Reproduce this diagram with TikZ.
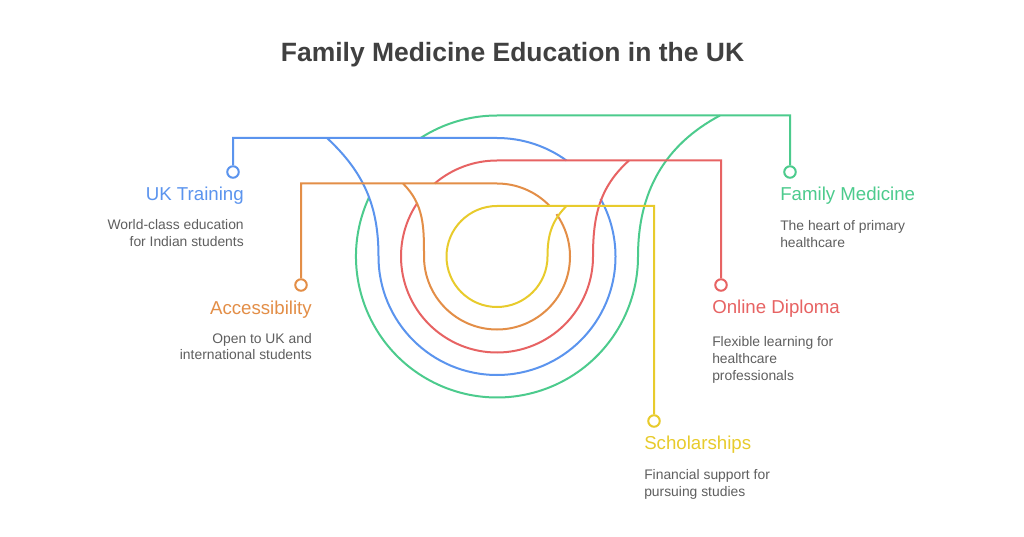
\documentclass[tikz,border=0pt]{standalone}
\usepackage{fontspec}
\setmainfont{Liberation Sans}
\usetikzlibrary{calc}
\definecolor{cblue}{HTML}{5B94EE}
\definecolor{corange}{HTML}{E38E47}
\definecolor{cred}{HTML}{E76363}
\definecolor{cgreen}{HTML}{4CCB8D}
\definecolor{cyellow}{HTML}{E8CB2C}
\definecolor{cbody}{HTML}{5F5F5F}
\definecolor{ctitle}{HTML}{404040}
\tikzset{
  wire/.style={line width=1.5pt,looseness=1},
  dotnode/.style={circle,draw,line width=1.5pt,fill=white,minimum size=11.5*0.75pt,inner sep=0pt},
  headR/.style={anchor=base east,inner sep=0pt,font=\fontsize{14}{16}\selectfont},
  headL/.style={anchor=base west,inner sep=0pt,font=\fontsize{14}{16}\selectfont},
  bodyR/.style={anchor=base east,inner sep=0pt,align=right,text=cbody,font=\fontsize{10.4}{12.75}\selectfont},
  bodyL/.style={anchor=base west,inner sep=0pt,align=left,text=cbody,font=\fontsize{10.4}{12.75}\selectfont},
  titlenode/.style={inner sep=0pt,text=ctitle,font=\fontsize{19.85}{24}\selectfont\bfseries}
}
\begin{document}
\begin{tikzpicture}[x=0.75pt,y=0.75pt]
\useasboundingbox (0,0) rectangle (1024,536);
\fill[white] (0,0) rectangle (1024,536);
\node[titlenode] (title) at (512.5,481.5) {Family Medicine Education in the UK};

\coordinate (c) at (497,279.5);
\node[dotnode,draw=cblue] (dotB) at (233,364) {};
\node[dotnode,draw=corange] (dotO) at (301,251) {};
\node[dotnode,draw=cred] (dotR) at (721,251) {};
\node[dotnode,draw=cgreen] (dotG) at (790,364) {};
\node[dotnode,draw=cyellow] (dotY) at (654,115) {};

\coordinate (gtop) at ($(c)+(0,141)$);
\coordinate (btop) at ($(c)+(0,118.5)$);
\coordinate (rtop) at ($(c)+(0,96)$);
\coordinate (otop) at ($(c)+(0,73)$);
\coordinate (ytop) at ($(c)+(0,50.5)$);
\coordinate (gstart) at ($(c)+(155:141)$);
\coordinate (rstart) at ($(c)+(146.4:96)$);
\coordinate (bstart) at (327,398);
\coordinate (ostart) at (403,352.5);
\coordinate (gend) at (720,420.5);
\coordinate (rend) at (629,375.5);
\coordinate (yend) at (566.5,330);

% green
\draw[wire,cgreen] (dotG.north) |- (gtop) arc[start angle=90,end angle=122.8,radius=141];
\draw[wire,cgreen] (gstart) arc[start angle=155,end angle=360,radius=141] to[out=90,in=208] (gend);
% blue
\draw[wire,cblue] (dotB.north) |- (btop) arc[start angle=90,end angle=54.1,radius=118.5];
\draw[wire,cblue] (bstart) to[out=-43,in=90] ($(c)+(-118.5,0)$) arc[start angle=180,end angle=389.1,radius=118.5];
% red
\draw[wire,cred] (dotR.north) |- (rtop) arc[start angle=90,end angle=130.5,radius=96];
\draw[wire,cred] (rstart) arc[start angle=146.4,end angle=360,radius=96] to[out=90,in=222] (rend);
% orange
\draw[wire,corange] (dotO.north) |- (otop) arc[start angle=90,end angle=44,radius=73];
\draw[wire,corange] (ostart) to[out=-45,in=90] ($(c)+(-73,0)$) arc[start angle=180,end angle=395.4,radius=73];
% yellow
\draw[wire,cyellow] (dotY.north) |- (ytop) arc[start angle=90,end angle=360,radius=50.5] to[out=90,in=225] (yend);

\node[headR,text=cblue] (hB) at (244,335.3) {UK Training};
\node[bodyR] (tB) at (244,289) {World-class education\\for Indian students};
\node[headR,text=corange] (hO) at (312,222) {Accessibility};
\node[bodyR] (tO) at (312,176) {Open to UK and\\international students};
\node[headL,text=cgreen] (hG) at (780,335.3) {Family Medicine};
\node[bodyL] (tG) at (780,288) {The heart of primary\\healthcare};
\node[headL,text=cred] (hR) at (712,223) {Online Diploma};
\node[bodyL] (tR) at (712,156) {Flexible learning for\\healthcare\\professionals};
\node[headL,text=cyellow] (hY) at (644,87) {Scholarships};
\node[bodyL] (tY) at (644,40) {Financial support for\\pursuing studies};
\end{tikzpicture}
\end{document}
